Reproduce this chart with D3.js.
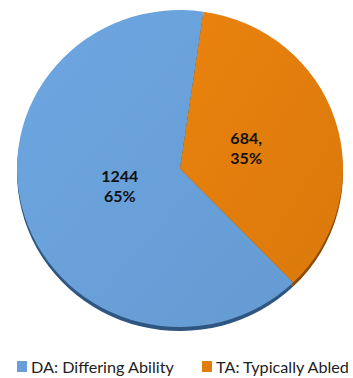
<!DOCTYPE html>
<html>
<head>
<meta charset="utf-8">
<script src="https://cdn.jsdelivr.net/npm/d3@7"></script>
<style>
  html, body { margin: 0; padding: 0; background: #fff; }
  svg { display: block; }
</style>
</head>
<body>
<svg id="chart" width="353" height="378"></svg>
<script>
// Participants by ability group
const categories = ["DA: Differing Ability", "TA: Typically Abled"];
const counts = [1244, 684];
const labelLines = [["1244", "65%"], ["684,", "35%"]];
const colors = ["#689fd8", "#e07d0c"];
const sideColors = ["#2f5680", "#8a4a05"];

const cx = 180, cy = 168.5, rx = 163, ry = 158.5;
// small per-slice nudges for the value labels
const labelNudge = [[5, -2], [1, 1]];

const svg = d3.select("#chart");
const defs = svg.append("defs");

// soft sheen on each slice
colors.forEach((c, i) => {
  const g = defs.append("linearGradient").attr("id", "g" + i)
    .attr("x1", "0").attr("y1", "0").attr("x2", "1").attr("y2", "1");
  g.append("stop").attr("offset", "0").attr("stop-color", d3.color(c).brighter(0.12));
  g.append("stop").attr("offset", "1").attr("stop-color", d3.color(c).darker(0.08));
});

const data = categories.map((c, i) => ({ name: c, value: counts[i], i }));

// TA slice begins slightly right of 12 o'clock and runs clockwise
const startOffset = 8.3 * Math.PI / 180;
const total = d3.sum(counts);
const pie = d3.pie().sort(null).value(d => d.value)
  .startAngle(startOffset - 2 * Math.PI * counts[0] / total)
  .endAngle(startOffset + 2 * Math.PI * counts[1] / total);
const arcs = pie(data);

const arc = d3.arc().innerRadius(0).outerRadius(rx);

// thin rim under the pie
const rimLayer = svg.append("g")
  .attr("transform", `translate(${cx},${cy + 4}) scale(1,${ry / rx})`);
rimLayer.selectAll("path").data(arcs).join("path")
  .attr("d", arc)
  .attr("fill", d => sideColors[d.data.i]);

const faceLayer = svg.append("g")
  .attr("transform", `translate(${cx},${cy}) scale(1,${ry / rx})`);
faceLayer.selectAll("path").data(arcs).join("path")
  .attr("d", arc)
  .attr("fill", d => `url(#g${d.data.i})`);

// value labels
const labelArc = d3.arc().innerRadius(rx * 0.42).outerRadius(rx * 0.42);
const labels = svg.append("g");
arcs.forEach(a => {
  const [lx, ly] = labelArc.centroid(a);
  const [nx, ny] = labelNudge[a.data.i];
  const x = cx + lx + nx;
  const t = labels.append("text")
    .attr("x", x)
    .attr("y", cy + ly * ry / rx + ny)
    .attr("text-anchor", "middle")
    .attr("font-family", "Lato, 'Open Sans', sans-serif")
    .attr("font-weight", "bold")
    .attr("font-size", 16)
    .attr("fill", "#111");
  labelLines[a.data.i].forEach((s, k) => {
    t.append("tspan").attr("x", x).attr("dy", k === 0 ? -5 : 20).text(s);
  });
});

// legend
const legendX = [17, 202];
const leg = svg.append("g");
categories.forEach((c, i) => {
  leg.append("rect").attr("x", legendX[i]).attr("y", 361)
    .attr("width", 10).attr("height", 11).attr("fill", colors[i]);
  leg.append("text").attr("x", legendX[i] + 14).attr("y", 372.5)
    .attr("font-family", "Lato, 'Open Sans', sans-serif")
    .attr("font-size", 16.2)
    .attr("fill", "#222")
    .text(c);
});
</script>
</body>
</html>
